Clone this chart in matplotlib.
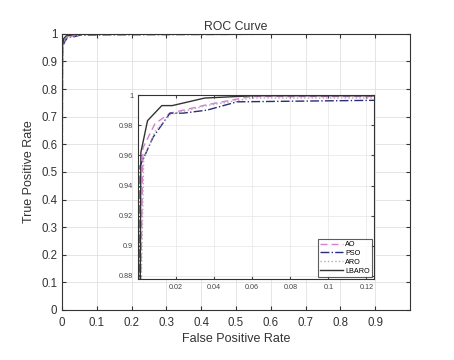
import numpy as np
import matplotlib
matplotlib.use("Agg")
import matplotlib.pyplot as plt

plt.rcParams['font.family'] = ['Liberation Sans', 'DejaVu Sans']

# ROC points
fpr_ao = [0, 0.0015, 0.0026, 0.0089, 0.0168, 0.036, 0.059, 0.124, 1.0]
tpr_ao = [0, 0.88, 0.965, 0.981, 0.988, 0.9935, 0.999, 0.999, 1.0]

fpr_pso = [0, 0.001, 0.0011, 0.0079, 0.0168, 0.0237, 0.0363, 0.052, 0.124, 1.0]
tpr_pso = [0, 0.88, 0.953, 0.972, 0.988, 0.988, 0.990, 0.9955, 0.9965, 1.0]

fpr_aro = [0, 0.0018, 0.003, 0.009, 0.017, 0.036, 0.06, 0.124, 1.0]
tpr_aro = [0, 0.88, 0.958, 0.976, 0.987, 0.993, 0.998, 0.998, 1.0]

fpr_lbaro = [0, 0.0012, 0.0015, 0.005, 0.0125, 0.018, 0.035, 0.06, 0.124, 1.0]
tpr_lbaro = [0, 0.88, 0.962, 0.983, 0.993, 0.993, 0.998, 0.9995, 0.9995, 1.0]

main_xticks = [0, 0.1, 0.2, 0.3, 0.4, 0.5, 0.6, 0.7, 0.8, 0.9]
main_yticks = [0, 0.1, 0.2, 0.3, 0.4, 0.5, 0.6, 0.7, 0.8, 0.9, 1]
inset_xticks = [0.02, 0.04, 0.06, 0.08, 0.1, 0.12]
inset_yticks = [0.88, 0.9, 0.92, 0.94, 0.96, 0.98, 1]

series = [
    ("AO", fpr_ao, tpr_ao, "#d47fd4", (0, (5, 3))),
    ("PSO", fpr_pso, tpr_pso, "#2b2b7a", "-."),
    ("ARO", fpr_aro, tpr_aro, "#b8a8b8", ":"),
    ("LBARO", fpr_lbaro, tpr_lbaro, "#333333", "-"),
]

def fmt(v):
    return "%g" % v

fig = plt.figure(figsize=(4.54, 3.6), dpi=100)
ax = fig.add_axes([0.1366, 0.139, 0.7664, 0.767])
for name, x, y, c, ls in series:
    ax.plot(x, y, color=c, linestyle=ls, linewidth=1.0, label=name)
ax.set_xlim(0, 1)
ax.set_ylim(0, 1)
ax.set_xticks(main_xticks)
ax.set_xticklabels([fmt(v) for v in main_xticks])
ax.set_yticks(main_yticks)
ax.set_yticklabels([fmt(v) for v in main_yticks])
ax.grid(True, color="#e0e0e0", linewidth=0.6)
ax.tick_params(direction="in", labelsize=8.3, colors="#333333", top=True, right=True, length=3)
ax.tick_params(axis="x", pad=5)
for s in ax.spines.values():
    s.set_color("#333333")
    s.set_linewidth(0.8)
ax.set_xlabel("False Positive Rate", fontsize=9, color="#333333", labelpad=3)
ax.set_ylabel("True Positive Rate", fontsize=9, color="#333333", labelpad=4)
ax.set_title("ROC Curve", fontsize=8.8, color="#333333", pad=3)

# zoomed inset
ins = fig.add_axes([0.304, 0.225, 0.52, 0.511])
for name, x, y, c, ls in series:
    ins.plot(x, y, color=c, linestyle=ls, linewidth=1.0, label=name)
ins.set_xlim(0, 0.124)
ins.set_ylim(0.878, 1.0)
ins.set_xticks(inset_xticks)
ins.set_xticklabels([fmt(v) for v in inset_xticks])
ins.set_yticks(inset_yticks)
ins.set_yticklabels([fmt(v) for v in inset_yticks])
ins.grid(True, color="#e6e6e6", linewidth=0.5)
ins.tick_params(direction="in", labelsize=5.2, colors="#444444", top=True, right=True, length=2)
for s in ins.spines.values():
    s.set_color("#333333")
    s.set_linewidth(0.8)
leg = ins.legend(loc="lower right", fontsize=5.2, frameon=True, fancybox=False,
                 edgecolor="#333333", handlelength=3.2, borderpad=0.3,
                 labelspacing=0.25, handletextpad=0.3, borderaxespad=0.3)
leg.get_frame().set_linewidth(0.8)

fig.savefig("out.png", dpi=100)
